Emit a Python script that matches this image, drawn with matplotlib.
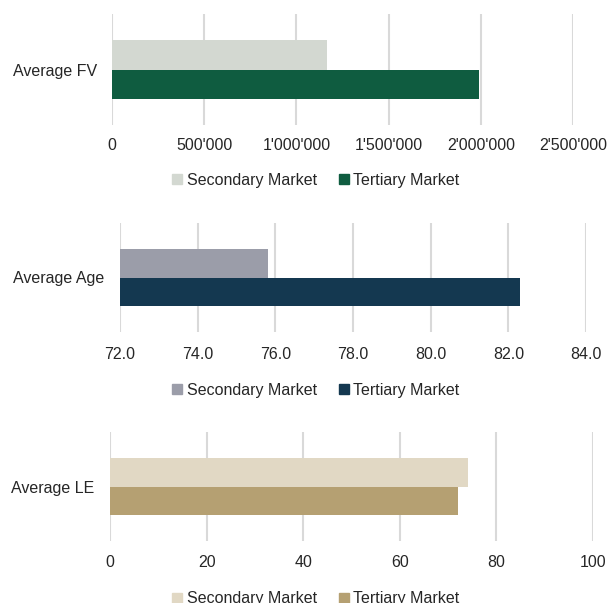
import numpy as np
import matplotlib.pyplot as plt
from matplotlib.patches import Patch
from matplotlib.ticker import FuncFormatter

plt.rcParams['font.family'] = ['Liberation Sans', 'DejaVu Sans']
plt.rcParams['font.size'] = 11.5

series = ['Secondary Market', 'Tertiary Market']
fv_label = 'Average FV'
fv_vals = [1165000, 1988000]
age_label = 'Average Age'
age_vals = [75.8, 82.3]
le_label = 'Average LE'
le_vals = [74.1, 72.1]

fv_ticks = [0, 500000, 1000000, 1500000, 2000000, 2500000]
age_ticks = [72.0, 74.0, 76.0, 78.0, 80.0, 82.0, 84.0]
le_ticks = [0, 20, 40, 60, 80, 100]

fig = plt.figure(figsize=(6.09, 6.03), dpi=100)
W, H = 609, 603

def make_panel(box, label, vals, ticks, fmt, colors, leg_y, pad):
    l, t, r, b = box
    ax = fig.add_axes([l/W, 1-b/H, (r-l)/W, (b-t)/H])
    h = 0.265
    ax.barh(0.5 + h/2, vals[0] - ticks[0], left=ticks[0], height=h, color=colors[0], zorder=2)
    ax.barh(0.5 - h/2, vals[1] - ticks[0], left=ticks[0], height=h, color=colors[1], zorder=2)
    ax.set_ylim(0, 1)
    ax.set_xlim(ticks[0], ticks[-1])
    ax.set_xticks(ticks)
    ax.xaxis.set_major_formatter(FuncFormatter(fmt))
    ax.set_yticks([0.5])
    ax.set_yticklabels([label])
    ax.tick_params(axis='both', length=0, colors='#262626', labelsize=11.5)
    ax.tick_params(axis='x', pad=pad)
    ax.tick_params(axis='y', pad=11)
    ax.grid(axis='x', color='#d9d9d9', linewidth=1.5, zorder=0)
    for s in ax.spines.values():
        s.set_visible(False)
    handles = [Patch(color=c, label=s) for c, s in zip(colors, series)]
    fig.legend(handles=handles, loc='center', bbox_to_anchor=(316/W, 1-leg_y/H), ncol=2,
               frameon=False, handlelength=0.6, handleheight=0.6, handletextpad=0.3,
               columnspacing=1.4, fontsize=11.5, labelcolor='#262626')
    return ax

make_panel((112, 14, 573, 125), fv_label, fv_vals, fv_ticks,
           lambda v, p: f'{int(v):,}'.replace(',', "'"), ['#d3d8d1', '#0f5c40'], 180, 9)
make_panel((120, 223, 586, 332), age_label, age_vals, age_ticks,
           lambda v, p: f'{v:.1f}', ['#9b9da9', '#143850'], 390, 11)
make_panel((110, 432, 593, 541), le_label, le_vals, le_ticks,
           lambda v, p: f'{int(v)}', ['#e1d8c4', '#b5a072'], 599, 10)

fig.savefig('out.png', dpi=100)
